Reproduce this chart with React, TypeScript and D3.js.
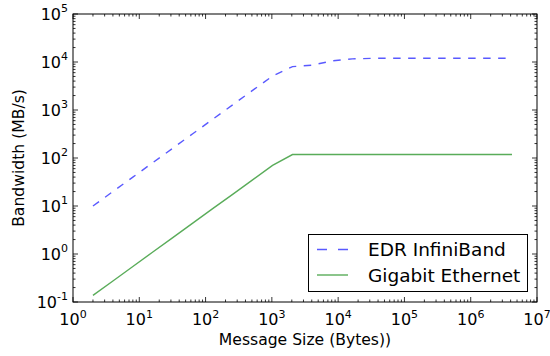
import React from "react";
import * as d3 from "d3";

const sizes = [2, 4, 8, 16, 32, 64, 128, 256, 512, 1024, 2048, 4096, 8192, 16384, 32768, 65536, 131072, 262144, 524288, 1048576, 2097152, 4194304];
const edrBandwidth = [10, 20, 40, 80, 160, 320, 640, 1280, 2560, 5100, 8000, 8600, 10600, 11600, 11900, 12000, 12000, 12000, 12000, 12000, 12000, 12000];
const gigeBandwidth = [0.137, 0.274, 0.55, 1.1, 2.2, 4.4, 8.8, 17.5, 35, 70, 118, 118, 118, 118, 118, 118, 118, 118, 118, 118, 118, 118];
const xTickExps = [0, 1, 2, 3, 4, 5, 6, 7];
const yTickExps = [-1, 0, 1, 2, 3, 4, 5];
const seriesNames = ["EDR InfiniBand", "Gigabit Ethernet"];
const xLabel = "Message Size (Bytes))";
const yLabel = "Bandwidth (MB/s)";

const W = 550, H = 356;
const L = 73, R = 537, T = 14, B = 302;
const FONT = "'DejaVu Sans', sans-serif";

export default function App() {
  const x = d3.scaleLog().domain([1, 1e7]).range([L, R]);
  const y = d3.scaleLog().domain([0.1, 1e5]).range([B, T]);
  const line = d3.line<number>().x((_, i) => x(sizes[i])).y((v) => y(v));

  const minorX: number[] = [];
  for (let e = 0; e < 7; e++) for (let m = 2; m <= 9; m++) minorX.push(m * Math.pow(10, e));
  const minorY: number[] = [];
  for (let e = -1; e < 5; e++) for (let m = 2; m <= 9; m++) minorY.push(m * Math.pow(10, e));

  const maj = 5, mnr = 2.5;
  const tickStroke = { stroke: "#000", strokeWidth: 0.8 };

  return (
    <svg width={W} height={H} style={{ position: "absolute", left: 0, top: 0, background: "#fff" }} fontFamily={FONT}>
      <rect x={0} y={0} width={W} height={H} fill="#fff" />
      {xTickExps.map((e) => {
        const px = x(Math.pow(10, e));
        return (
          <g key={"xm" + e}>
            <line x1={px} x2={px} y1={B} y2={B - maj} {...tickStroke} />
            <line x1={px} x2={px} y1={T} y2={T + maj} {...tickStroke} />
          </g>
        );
      })}
      {minorX.map((v) => {
        const px = x(v);
        return (
          <g key={"xn" + v}>
            <line x1={px} x2={px} y1={B} y2={B - mnr} {...tickStroke} />
            <line x1={px} x2={px} y1={T} y2={T + mnr} {...tickStroke} />
          </g>
        );
      })}
      {yTickExps.map((e) => {
        const py = y(Math.pow(10, e));
        return (
          <g key={"ym" + e}>
            <line x1={L} x2={L + maj} y1={py} y2={py} {...tickStroke} />
            <line x1={R} x2={R - maj} y1={py} y2={py} {...tickStroke} />
          </g>
        );
      })}
      {minorY.map((v) => {
        const py = y(v);
        return (
          <g key={"yn" + v}>
            <line x1={L} x2={L + mnr} y1={py} y2={py} {...tickStroke} />
            <line x1={R} x2={R - mnr} y1={py} y2={py} {...tickStroke} />
          </g>
        );
      })}
      <path d={line(edrBandwidth) || ""} fill="none" stroke="#0000ff" strokeOpacity={0.65} strokeWidth={1.4} strokeDasharray="7.5,7.5" />
      <path d={line(gigeBandwidth) || ""} fill="none" stroke="#008000" strokeOpacity={0.65} strokeWidth={1.4} />
      <rect x={L} y={T} width={R - L} height={B - T} fill="none" stroke="#000" strokeWidth={1} />
      {xTickExps.map((e) => (
        <text key={"xl" + e} x={x(Math.pow(10, e))} y={325} textAnchor="middle" fontSize={16} fill="#000">
          10<tspan dy={-7.5} fontSize={11}>{e}</tspan>
        </text>
      ))}
      {yTickExps.map((e) => (
        <text key={"yl" + e} x={68} y={y(Math.pow(10, e)) + 5.8} textAnchor="end" fontSize={16} fill="#000">
          10<tspan dy={-7.5} fontSize={11}>{e}</tspan>
        </text>
      ))}
      <text x={(L + R) / 2} y={345} textAnchor="middle" fontSize={15.6} fill="#000">{xLabel}</text>
      <text transform={`translate(24,${(T + B) / 2}) rotate(-90)`} textAnchor="middle" fontSize={15.6} fill="#000">{yLabel}</text>
      <rect x={308.5} y={234.5} width={219} height={57} fill="#fff" stroke="#000" strokeWidth={1} />
      <line x1={317} x2={348} y1={249.5} y2={249.5} stroke="#0000ff" strokeOpacity={0.65} strokeWidth={1.4} strokeDasharray="10,11" />
      <line x1={317} x2={348} y1={275} y2={275} stroke="#008000" strokeOpacity={0.65} strokeWidth={1.4} />
      <text x={368} y={255.8} fontSize={18.5} fill="#000">{seriesNames[0]}</text>
      <text x={368} y={281.8} fontSize={18.5} fill="#000">{seriesNames[1]}</text>
    </svg>
  );
}
